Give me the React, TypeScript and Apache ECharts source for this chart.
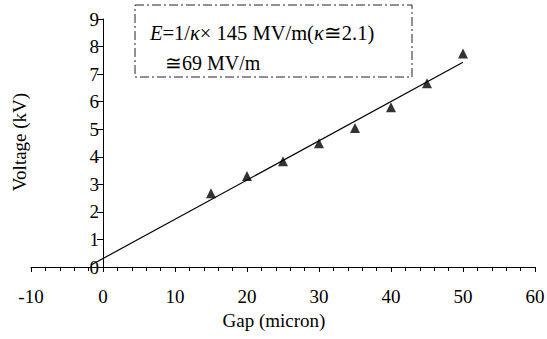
import React, { useEffect, useRef } from "react";
import * as echarts from "echarts";

const gapMicron = [15, 20, 25, 30, 35, 40, 45, 50];
const voltageKV = [2.68, 3.3, 3.84, 4.49, 5.04, 5.8, 6.67, 7.75];
const fitGap = [-1.6, 50];
const fitVoltage = [0.08, 7.43];
const xTitle = "Gap (micron)";
const yTitle = "Voltage (kV)";

const FONT = "Liberation Serif";
const X_MIN = -10;
const X_MAX = 60;
const GRID_LEFT = 31;
const GRID_RIGHT = 12;
const WIDTH = 547;

export default function App() {
  const ref = useRef<HTMLDivElement>(null);
  useEffect(() => {
    if (!ref.current) return;
    const chart = echarts.init(ref.current, null, { renderer: "svg" });
    const pxPerUnit = (WIDTH - GRID_LEFT - GRID_RIGHT) / (X_MAX - X_MIN);
    const yAxisOffset = -(0 - X_MIN) * pxPerUnit;
    chart.setOption({
      animation: false,
      backgroundColor: "#ffffff",
      textStyle: { fontFamily: FONT, color: "#000" },
      grid: { left: GRID_LEFT, right: GRID_RIGHT, top: 19, bottom: 72, outerBoundsMode: "none", containLabel: false },
      xAxis: {
        type: "value",
        min: X_MIN,
        max: X_MAX,
        interval: 10,
        axisLine: { onZero: true, lineStyle: { color: "#000", width: 1 } },
        axisTick: { show: true, inside: false, length: 5, lineStyle: { color: "#000" } },
        minorTick: { show: true, splitNumber: 5, length: 4, lineStyle: { color: "#000" } },
        axisLabel: { fontFamily: FONT, fontSize: 19, color: "#000", margin: 20 },
        splitLine: { show: false },
      },
      yAxis: {
        type: "value",
        min: 0,
        max: 9,
        interval: 1,
        offset: yAxisOffset,
        axisLine: { onZero: false, lineStyle: { color: "#000", width: 1 } },
        axisTick: { show: true, inside: false, length: 6, lineStyle: { color: "#000" } },
        axisLabel: { fontFamily: FONT, fontSize: 19, color: "#000", margin: 4 },
        splitLine: { show: false },
      },
      series: [
        {
          type: "line",
          data: fitGap.map((g, i) => [g, fitVoltage[i]]),
          showSymbol: false,
          symbol: "none",
          lineStyle: { color: "#000", width: 1.2 },
          z: 2,
        },
        {
          type: "scatter",
          data: gapMicron.map((g, i) => [g, voltageKV[i]]),
          symbol: "triangle",
          symbolSize: 10,
          itemStyle: { color: "#000" },
          z: 3,
        },
      ],
      graphic: [
        {
          type: "text",
          x: 274,
          y: 320,
          style: {
            text: xTitle,
            font: `19px ${FONT}`,
            fill: "#000",
            align: "center",
            verticalAlign: "middle",
          },
        },
        {
          type: "text",
          x: 19,
          y: 142,
          rotation: Math.PI / 2,
          style: {
            text: yTitle,
            font: `19px ${FONT}`,
            fill: "#000",
            align: "center",
            verticalAlign: "middle",
          },
        },
        {
          type: "rect",
          shape: { x: 135, y: 5, width: 277, height: 72 },
          style: { fill: "none", stroke: "#222", lineWidth: 1, lineDash: [9, 3, 2, 3] },
          z: 10,
        },
        {
          type: "text",
          x: 150,
          y: 33,
          style: {
            text: "{i|E}=1/{i|κ}× 145 MV/m({i|κ}≅2.1)",
            font: `20.5px ${FONT}`,
            fill: "#000",
            verticalAlign: "middle",
            rich: {
              i: { fontStyle: "italic", fontFamily: FONT, fontSize: 20.5, fill: "#000" },
            },
          },
          z: 10,
        },
        {
          type: "text",
          x: 165,
          y: 63,
          style: {
            text: "≅69 MV/m",
            font: `20px ${FONT}`,
            fill: "#000",
            verticalAlign: "middle",
          },
          z: 10,
        },
      ],
    });
    return () => chart.dispose();
  }, []);
  return (
    <div
      ref={ref}
      style={{ position: "fixed", left: 0, top: 0, width: 547, height: 339, background: "#fff" }}
    />
  );
}
